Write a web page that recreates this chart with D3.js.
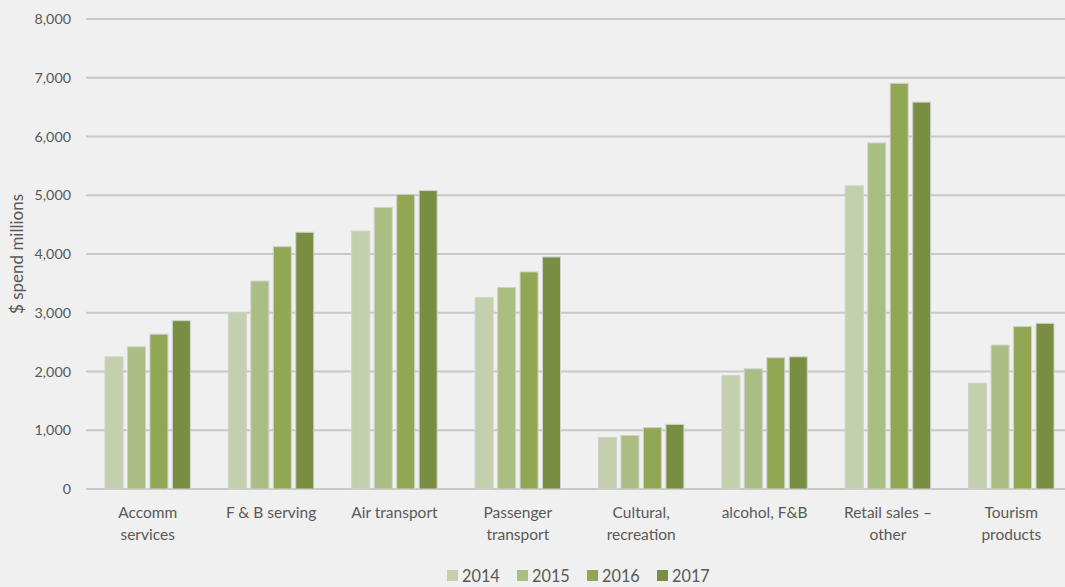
<!DOCTYPE html>
<html>
<head>
<meta charset="utf-8">
<script src="https://cdn.jsdelivr.net/npm/d3@7"></script>
<style>
  html, body { margin: 0; padding: 0; background: #eff0ef; }
  svg { display: block; font-family: Lato, "Open Sans", sans-serif; }
</style>
</head>
<body>
<svg id="chart" width="1065" height="587"></svg>
<script>
// ---------- DATA ----------
const categories = [
  ["Accomm", "services"],
  ["F & B serving"],
  ["Air transport"],
  ["Passenger", "transport"],
  ["Cultural,", "recreation"],
  ["alcohol, F&B"],
  ["Retail sales \u2013", "other"],
  ["Tourism", "products"]
];
const years = ["2014", "2015", "2016", "2017"];
const values2014 = [2250, 3000, 4390, 3260, 875, 1930, 5160, 1800];
const values2015 = [2420, 3540, 4790, 3430, 910, 2045, 5890, 2450];
const values2016 = [2635, 4125, 5015, 3695, 1045, 2235, 6905, 2765];
const values2017 = [2865, 4370, 5080, 3950, 1100, 2250, 6585, 2820];
const yTicks = [0, 1000, 2000, 3000, 4000, 5000, 6000, 7000, 8000];
const colors = ["#c4cfad", "#aabd82", "#92a753", "#7a8e43"];

const series = [values2014, values2015, values2016, values2017];

// ---------- LAYOUT ----------
const svg = d3.select("#chart");
const plotL = 86, plotR = 1073, plotT = 19, plotB = 489;

const x0 = d3.scaleBand()
  .domain(d3.range(categories.length))
  .range([plotL, plotR])
  .paddingInner(0)
  .paddingOuter(0);

const x1 = d3.scaleBand()
  .domain(years)
  .range([19, x0.bandwidth() - 19])
  .paddingInner(0.2);

const y = d3.scaleLinear().domain([0, 8000]).range([plotB, plotT]);

// gridlines
svg.append("g")
  .selectAll("line")
  .data(yTicks)
  .join("line")
  .attr("x1", plotL).attr("x2", 1065)
  .attr("y1", d => y(d)).attr("y2", d => y(d))
  .attr("stroke", "#c8c8c8")
  .attr("stroke-width", 2);

// y tick labels
svg.append("g")
  .selectAll("text")
  .data(yTicks)
  .join("text")
  .attr("x", 71)
  .attr("y", d => y(d))
  .attr("dy", "0.35em")
  .attr("text-anchor", "end")
  .attr("font-size", 14.3)
  .attr("fill", "#595959")
  .text(d => d3.format(",")(d));

// y axis title
svg.append("text")
  .attr("transform", `translate(23,254) rotate(-90)`)
  .attr("text-anchor", "middle")
  .attr("font-size", 17)
  .attr("fill", "#595959")
  .text("$ spend millions");

// bars
const groups = svg.append("g")
  .selectAll("g")
  .data(categories.map((c, i) => i))
  .join("g")
  .attr("transform", i => `translate(${x0(i)},0)`);

groups.selectAll("rect")
  .data(i => years.map((yr, k) => ({ yr, k, v: series[k][i] })))
  .join("rect")
  .attr("x", d => x1(d.yr))
  .attr("width", x1.bandwidth())
  .attr("y", d => y(d.v))
  .attr("height", d => y(0) - y(d.v))
  .attr("fill", d => colors[d.k])
  .attr("stroke", "#cfd1cc")
  .attr("stroke-width", 1);

// x labels
const xl = svg.append("g")
  .selectAll("text")
  .data(categories)
  .join("text")
  .attr("x", (d, i) => x0(i) + x0.bandwidth() / 2)
  .attr("y", 518)
  .attr("text-anchor", "middle")
  .attr("font-size", 15.5)
  .attr("fill", "#595959");
xl.selectAll("tspan")
  .data(d => d)
  .join("tspan")
  .attr("x", function () { return this.parentNode.getAttribute("x"); })
  .attr("dy", (d, j) => j === 0 ? 0 : 22)
  .text(d => d);

// legend
const legend = svg.append("g")
  .selectAll("g")
  .data(years)
  .join("g")
  .attr("transform", (d, i) => `translate(${447 + i * 70},576)`);
legend.append("rect")
  .attr("x", 0).attr("y", -6)
  .attr("width", 11).attr("height", 11)
  .attr("fill", (d, i) => colors[i]);
legend.append("text")
  .attr("x", 15).attr("y", 0)
  .attr("dy", "0.35em")
  .attr("font-size", 16.3)
  .attr("fill", "#595959")
  .text(d => d);
</script>
</body>
</html>
